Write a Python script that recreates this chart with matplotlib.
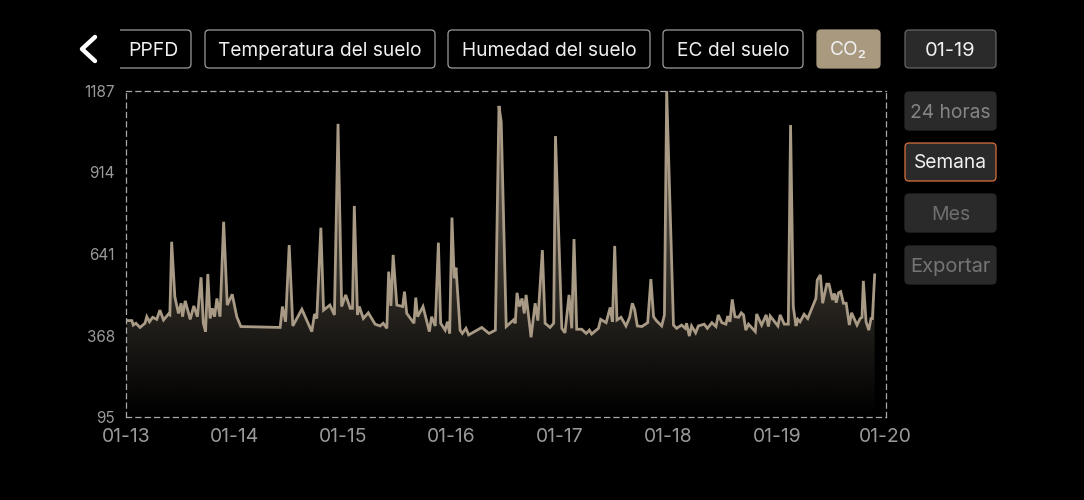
import numpy as np
from matplotlib import pyplot as plt
from matplotlib.patches import FancyBboxPatch, Polygon, Rectangle

plt.rcParams['font.family'] = ['Inter', 'DejaVu Sans']

# horas desde 01-13 00:00 y valores de CO2
hours = [0.1, 1.3, 1.6, 2.2, 3.1, 4.2, 4.6, 5.2, 5.9, 6.8, 7.5, 8.3, 9.4, 9.7, 10.1, 10.8, 11.6, 12.2, 12.5, 13.1,
         14.2, 15.0, 15.8, 16.6, 17.1, 17.6, 18.1, 18.6, 19.1, 19.6, 20.1, 20.8, 21.6, 22.4, 23.5, 24.5, 25.4,
         34.1, 34.6, 35.3, 36.1, 36.9, 38.9, 41.1, 41.7, 42.2, 43.1, 43.7, 45.1, 46.1, 46.9, 47.7, 48.6, 49.6,
         50.1, 50.5, 51.2, 51.6, 52.5, 53.6, 55.1, 56.2, 56.9, 57.7, 58.1, 58.6, 59.1, 59.9, 61.2, 61.6, 62.1,
         63.7, 64.1, 64.5, 65.7, 67.1, 67.6, 68.4, 69.1, 69.6, 70.6, 71.1, 71.6, 72.1, 72.6, 73.0, 73.9, 74.4,
         75.2, 75.8, 78.7, 80.3, 81.7, 82.5, 83.0, 84.1, 85.7, 86.1, 86.5, 87.0, 87.6, 88.1, 88.5, 89.6, 90.5,
         91.1, 92.1, 92.7, 93.8, 94.6, 95.0, 96.4, 97.1, 98.0, 98.6, 99.1, 99.7, 100.8, 101.8, 102.5, 103.0,
         104.5, 105.0, 106.2, 107.1, 107.6, 108.1, 108.6, 109.5, 110.6, 111.4, 112.0, 112.5, 113.1, 114.1,
         115.4, 116.1, 116.7, 117.3, 118.5, 119.1, 119.6, 121.1, 121.8, 122.9, 123.7, 124.0, 124.6, 125.1,
         126.0, 126.6, 127.9, 128.6, 129.6, 130.5, 131.0, 131.8, 132.7, 133.1, 133.6, 134.1, 134.7, 135.5,
         136.1, 136.6, 137.1, 137.7, 139.2, 139.5, 140.6, 141.6, 142.1, 142.5, 144.2, 144.7, 145.6, 146.5,
         147.0, 147.6, 148.2, 148.6, 149.1, 150.0, 150.8, 152.6, 152.9, 153.6, 154.1, 155.0, 155.5, 156.3,
         156.7, 157.1, 157.6, 158.1, 158.7, 159.3, 160.0, 160.5, 161.7, 162.4, 162.8, 163.1, 163.7, 164.3,
         164.8, 165.1, 165.6]
co2 = [418, 418, 403, 409, 395, 409, 431, 414, 429, 422, 453, 420, 440, 437, 682, 498, 442, 476, 431, 484,
       422, 467, 431, 563, 409, 381, 574, 425, 459, 431, 492, 431, 749, 470, 506, 431, 398,
       395, 465, 414, 671, 400, 456, 381, 440, 425, 729, 453, 470, 437, 1077, 465, 504, 459,
       459, 802, 437, 465, 425, 444, 406, 400, 409, 392, 582, 467, 638, 470, 465, 515, 442,
       409, 495, 431, 465, 381, 431, 400, 679, 409, 386, 414, 375, 763, 560, 595, 386, 375,
       392, 370, 395, 375, 386, 1137, 1083, 398, 420, 409, 511, 465, 492, 442, 504, 362, 476,
       418, 654, 409, 395, 409, 1036, 392, 377, 504, 392, 691, 389, 389, 375, 386, 373,
       392, 422, 411, 462, 414, 668, 420, 429, 400, 429, 476, 456, 400, 398,
       411, 557, 431, 418, 400, 437, 1187, 403, 392, 403, 392, 409, 366, 400,
       377, 400, 406, 392, 411, 398, 437, 411, 406, 433, 414, 489, 431, 429,
       444, 437, 386, 406, 381, 440, 403, 437, 398, 433, 400, 437, 406, 406,
       1073, 465, 400, 422, 414, 439, 425, 492, 554, 571, 476, 540, 540, 487,
       509, 478, 511, 515, 476, 476, 403, 444, 403, 425, 429, 551, 414, 386,
       425, 425, 571]

y_ticks = [95, 368, 641, 914, 1187]
x_ticks = [0, 24, 48, 72, 96, 120, 144, 168]
x_labels = ['01-13', '01-14', '01-15', '01-16', '01-17', '01-18', '01-19', '01-20']

LINE = '#a89a85'
GRAY = '#9a9a9a'

fig = plt.figure(figsize=(10.84, 5), dpi=100, facecolor='black')
ax = fig.add_axes([126 / 1084, 83 / 500, 759.5 / 1084, 326 / 500], facecolor='black')
ax.set_xlim(0, 168)
ax.set_ylim(95, 1187)

# relleno con degradado recortado bajo la curva
grad = np.zeros((256, 1, 4))
grad[..., 0] = 168 / 255
grad[..., 1] = 154 / 255
grad[..., 2] = 133 / 255
grad[..., 3] = np.linspace(0.7, 0, 256)[:, None]
im = ax.imshow(grad, extent=[0, 168, 95, 1187], origin='upper', aspect='auto', zorder=1)
poly = Polygon(list(zip(hours, co2)) + [(hours[-1], 95), (hours[0], 95)], closed=True,
               transform=ax.transData, fc='none', ec='none')
ax.add_patch(poly)
im.set_clip_path(poly)

ax.plot(hours, co2, color=LINE, lw=2.0, solid_joinstyle='miter', zorder=2)

for s in ax.spines.values():
    s.set_color('#a8a8a8')
    s.set_linewidth(0.9)
    s.set_linestyle((0, (4, 3.5)))
ax.set_xticks(x_ticks)
ax.set_xticklabels(x_labels, color=GRAY, fontsize=13.9)
ax.set_yticks(y_ticks)
ax.set_yticklabels([str(v) for v in y_ticks], color=GRAY, fontsize=11)
ax.tick_params(axis='x', length=0, pad=8)
ax.tick_params(axis='y', length=0, pad=8)

# capa de interfaz en pixeles
ui = fig.add_axes([0, 0, 1, 1], facecolor='none')
ui.set_xlim(0, 1084)
ui.set_ylim(500, 0)
ui.axis('off')


def chip(x0, x1, y0, y1, label, fc='black', ec='#9c9c9c', tc='#f0f0f0', size=13.8, lw=0.9):
    box = FancyBboxPatch((x0 + 3, y0 + 3), x1 - x0 - 6, y1 - y0 - 6, boxstyle='round,pad=3,rounding_size=4',
                         fc=fc, ec=ec, lw=lw)
    ui.add_patch(box)
    ui.text((x0 + x1) / 2, (y0 + y1) / 2 + 1.5, label, color=tc, fontsize=size, ha='center', va='center')
    return box


box = chip(100, 191, 30, 68, '')
box.set_clip_path(Rectangle((120, 0), 964, 500, transform=ui.transData))
ui.text(153, 50.5, 'PPFD', color='#f0f0f0', fontsize=14, ha='center', va='center')
chip(205, 435, 30, 68, 'Temperatura del suelo')
chip(448, 650, 30, 68, 'Humedad del suelo')
chip(663, 803, 30, 68, 'EC del suelo')
chip(817, 880, 30, 68, 'CO₂', fc='#a8997f', ec='#a8997f')
chip(905, 996, 30, 68, '01-19', fc='#2a2a2a', ec='#666666', size=14.5)
chip(905, 996, 92, 130, '24 horas', fc='#2a2a2a', ec='#2a2a2a', tc='#858585')
chip(905, 996, 143, 181, 'Semana', fc='#2a2a2a', ec='#d9703a')
chip(905, 996, 194, 232, 'Mes', fc='#2a2a2a', ec='#2a2a2a', tc='#6e6e6e', size=14)
chip(905, 996, 246, 284, 'Exportar', fc='#2a2a2a', ec='#2a2a2a', tc='#757575', size=14.5)

ui.plot([95, 82, 95], [37, 49, 61], color='white', lw=3.2, solid_capstyle='round', solid_joinstyle='round')

fig.savefig('out.png', dpi=100, facecolor='black')
